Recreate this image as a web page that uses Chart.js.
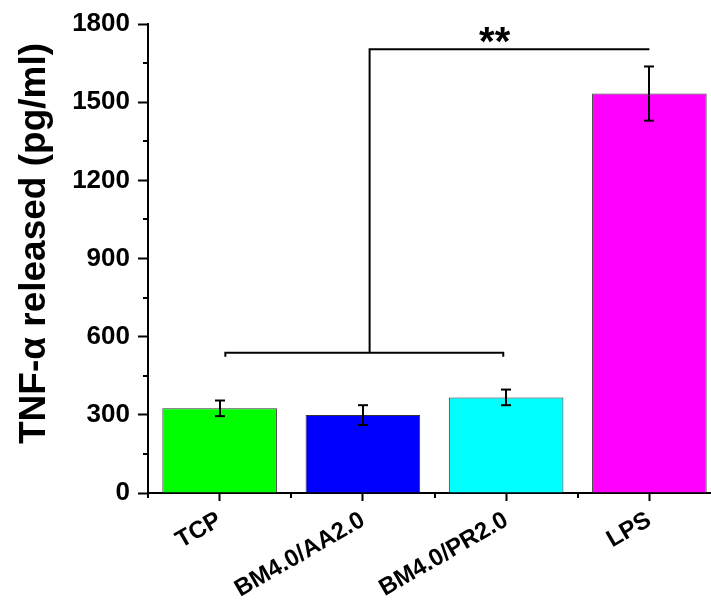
<!DOCTYPE html>
<html>
<head>
<meta charset="utf-8">
<script src="https://cdn.jsdelivr.net/npm/chart.js@4/dist/chart.umd.min.js"></script>
<style>
  html, body { margin: 0; padding: 0; overflow: hidden; background: #fff; width: 711px; height: 603px; }
  #wrap { position: relative; width: 721px; height: 603px; }
  canvas { display: block; }
</style>
</head>
<body>
<div id="wrap"><canvas id="c" width="721" height="603"></canvas></div>
<script>
// TNF-alpha release per substrate (mean and error, pg/ml)
const categories = ['TCP', 'BM4.0/AA2.0', 'BM4.0/PR2.0', 'LPS'];
const tnfMeans = [325, 299, 367, 1533];
const tnfErrors = [30, 38, 30, 104];
const barColors = ['#00ff00', '#0000ff', '#00ffff', '#ff00ff'];
const yTickValues = [0, 300, 600, 900, 1200, 1500, 1800];
const yMinorValues = [150, 450, 750, 1050, 1350, 1650];
const yTitle = 'TNF-\u03b1 released (pg/ml)';

// significance bracket (x in category index units, y in pg/ml)
const groupSpan = [0.04, 1.98];
const groupLevel = 538;
const stemX = 1.047;
const compareLevel = 1703;
const compareTarget = 3;
const sigLabel = '**';
const sigLabelPos = [1.92, 1759];

const FONT = "'Liberation Sans', Arial, sans-serif";

function seg(ctx, x1, y1, x2, y2) {
  ctx.beginPath();
  ctx.moveTo(x1, y1);
  ctx.lineTo(x2, y2);
  ctx.stroke();
}

const overlay = {
  id: 'overlay',
  afterDatasetsDraw(chart) {
    const { ctx, scales: { x, y } } = chart;
    ctx.save();
    ctx.strokeStyle = '#000';
    ctx.lineWidth = 2;
    ctx.lineCap = 'butt';

    // error bars
    tnfMeans.forEach((m, i) => {
      const px = Math.round(x.getPixelForValue(i));
      const hi = y.getPixelForValue(m + tnfErrors[i]);
      const lo = y.getPixelForValue(m - tnfErrors[i]);
      seg(ctx, px, hi, px, lo);
      seg(ctx, px - 5, hi, px + 5, hi);
      seg(ctx, px - 5, lo, px + 5, lo);
    });

    // group bracket
    const gx1 = x.getPixelForValue(groupSpan[0]);
    const gx2 = x.getPixelForValue(groupSpan[1]);
    const gy = y.getPixelForValue(groupLevel);
    ctx.beginPath();
    ctx.moveTo(gx1, gy + 4);
    ctx.lineTo(gx1, gy);
    ctx.lineTo(gx2, gy);
    ctx.lineTo(gx2, gy + 4);
    ctx.stroke();

    // comparison stem to LPS
    const sx = x.getPixelForValue(stemX);
    const cy = y.getPixelForValue(compareLevel);
    const tx = x.getPixelForValue(compareTarget);
    ctx.beginPath();
    ctx.moveTo(sx, gy);
    ctx.lineTo(sx, cy);
    ctx.lineTo(tx, cy);
    ctx.stroke();

    // significance marker
    ctx.fillStyle = '#000';
    ctx.font = 'bold 40px ' + FONT;
    ctx.textAlign = 'center';
    ctx.textBaseline = 'alphabetic';
    const m = ctx.measureText(sigLabel);
    const cyL = y.getPixelForValue(sigLabelPos[1]);
    const base = cyL + (m.actualBoundingBoxAscent - m.actualBoundingBoxDescent) / 2;
    ctx.fillText(sigLabel, x.getPixelForValue(sigLabelPos[0]), base);
    ctx.restore();
  },
  afterDraw(chart) {
    const { ctx, scales: { x, y }, chartArea } = chart;
    ctx.save();
    ctx.strokeStyle = '#000';
    ctx.lineWidth = 2;
    // minor ticks on value axis
    yMinorValues.forEach(v => {
      const py = Math.round(y.getPixelForValue(v));
      seg(ctx, chartArea.left - 5, py, chartArea.left, py);
    });
    // minor ticks between categories
    for (let i = 0; i <= categories.length; i++) {
      const px = Math.round(x.getPixelForValue(i - 0.5));
      seg(ctx, px, chartArea.bottom, px, chartArea.bottom + 5);
    }
    // value axis title
    ctx.fillStyle = '#000';
    ctx.font = 'bold 37px ' + FONT;
    ctx.textAlign = 'center';
    ctx.textBaseline = 'alphabetic';
    ctx.translate(45, (chartArea.top + chartArea.bottom) / 2 - 15);
    ctx.rotate(-Math.PI / 2);
    ctx.fillText(yTitle, 0, 0);
    ctx.restore();
  }
};

new Chart(document.getElementById('c'), {
  type: 'bar',
  data: {
    labels: categories,
    datasets: [{
      data: tnfMeans,
      backgroundColor: barColors,
      borderColor: '#333333',
      borderWidth: 1,
      barPercentage: 0.8,
      categoryPercentage: 1.0
    }]
  },
  options: {
    responsive: false,
    animation: false,
    devicePixelRatio: 1,
    layout: { padding: { top: 24, right: 0, bottom: 0, left: 0 } },
    plugins: { legend: { display: false }, tooltip: { enabled: false } },
    scales: {
      x: {
        grid: { display: true, drawOnChartArea: false, offset: false, tickLength: 8, tickWidth: 2, tickColor: '#000' },
        border: { display: true, color: '#000', width: 2 },
        ticks: {
          color: '#000',
          font: { family: FONT, weight: 'bold', size: 24 },
          maxRotation: 30, minRotation: 30, autoSkip: false, padding: 5
        },
        afterFit(s) { s.height = 110; s.paddingLeft = 0; s.paddingRight = 0; }
      },
      y: {
        min: 0, max: 1800,
        afterBuildTicks(s) { s.ticks = yTickValues.map(v => ({ value: v })); },
        grid: { display: true, drawOnChartArea: false, tickLength: 10, tickWidth: 2, tickColor: '#000' },
        border: { display: true, color: '#000', width: 2 },
        ticks: {
          color: '#000',
          font: { family: FONT, weight: 'bold', size: 26 },
          padding: 8,
          callback: v => String(v)
        },
        afterFit(s) { s.width = 148; }
      }
    }
  },
  plugins: [overlay]
});
</script>
</body>
</html>
